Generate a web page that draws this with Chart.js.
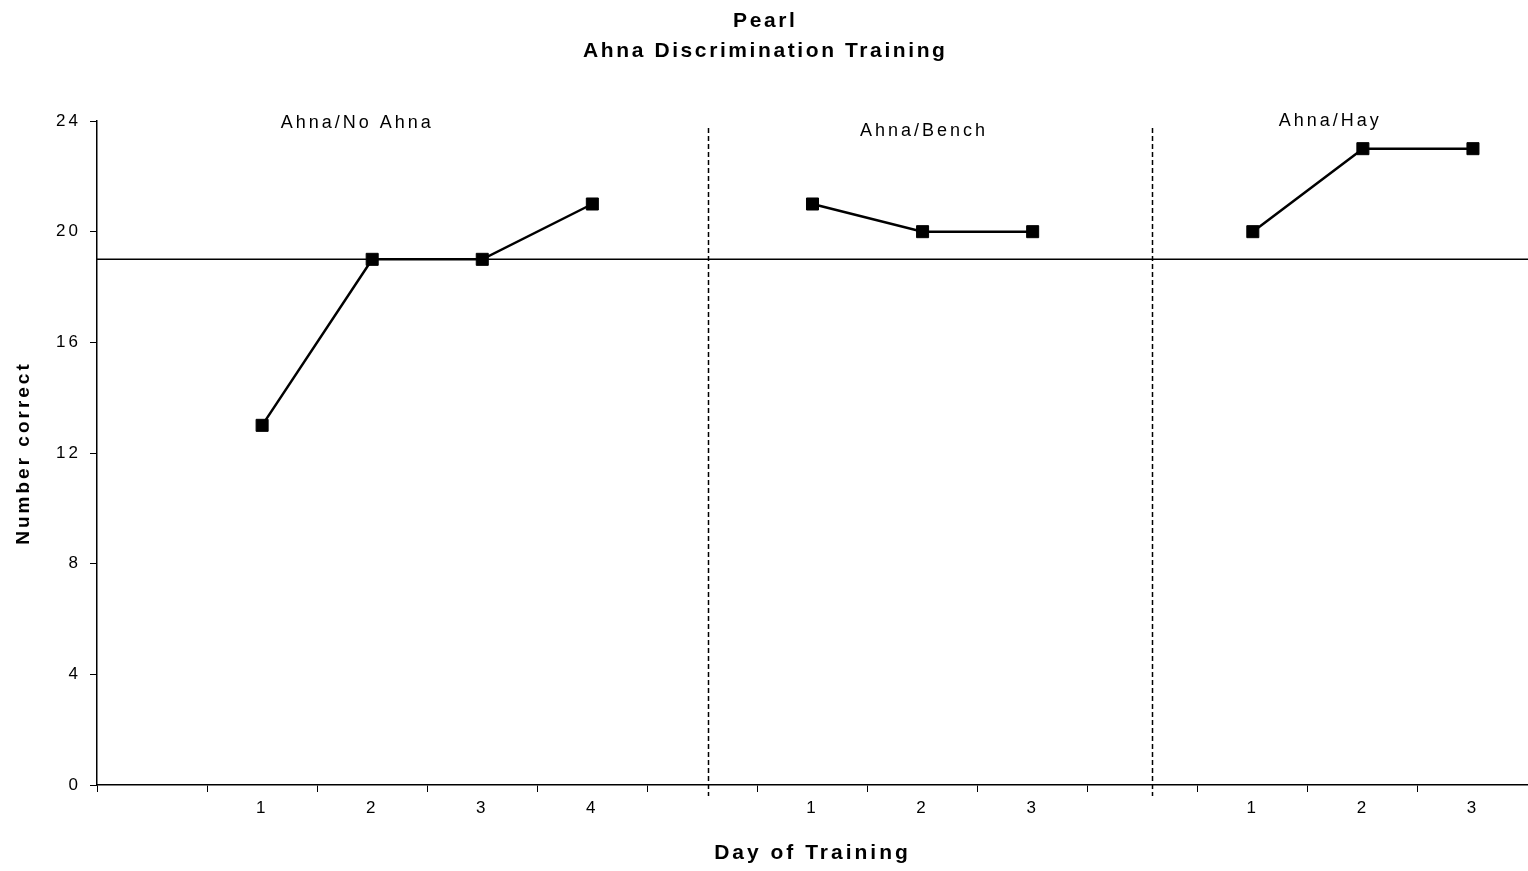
<!DOCTYPE html>
<html lang="en">
<head>
<meta charset="utf-8">
<script src="https://cdn.jsdelivr.net/npm/chart.js@4.4.1/dist/chart.umd.min.js"></script>
<style>
  html, body { margin: 0; padding: 0; background: #fff; }
</style>
</head>
<body>
<canvas id="chart" width="1528" height="871"></canvas>

<script>
// x categories: blank slots separate the three phases
var dayLabels = ['', '1', '2', '3', '4', '', '1', '2', '3', '', '1', '2', '3'];
var noAhna = [13, 19, 19, 21];
var bench = [21, 20, 20];
var hay = [20, 23, 23];
var criterion = 19;
var phaseNames = ['Ahna/No Ahna', 'Ahna/Bench', 'Ahna/Hay'];
var phaseBreaks = [5.05, 9.08];
var yTicks = [0, 4, 8, 12, 16, 20, 24];

var FONT = '"Liberation Sans", Arial, sans-serif';
Chart.defaults.font.family = FONT;
Chart.defaults.color = '#000';

// group the non-blank categories into runs, one per phase
var runs = [];
dayLabels.forEach(function (d, i) {
  if (d === '') return;
  if (i === 0 || dayLabels[i - 1] === '') runs.push([]);
  runs[runs.length - 1].push(i);
});

function toPoints(vals, run) {
  return vals.map(function (v, k) { return { x: run[k], y: v }; });
}

function phaseSet(vals, run) {
  return {
    data: toPoints(vals, run),
    xAxisID: 'xl',
    borderColor: '#000',
    borderWidth: 2.5,
    backgroundColor: '#000',
    pointStyle: 'rect',
    pointRadius: 8.5,
    pointBorderWidth: 1,
    pointBackgroundColor: '#000',
    pointBorderColor: '#000',
    tension: 0
  };
}

// where the phase names sit, in chart units
var phaseLabelPos = [[1.85, 23.93], [7.0, 23.65], [10.69, 24.0]];

var extras = {
  id: 'extras',
  beforeLayout: function (c) { c.ctx.letterSpacing = '3px'; },
  beforeDraw: function (c) { c.ctx.letterSpacing = '3px'; },
  beforeDatasetsDraw: function (c) {
    var ctx = c.ctx, xs = c.scales.xl, ys = c.scales.y;
    ctx.save();
    ctx.strokeStyle = '#000';
    ctx.lineWidth = 1.5;
    ctx.setLineDash([5, 3]);
    phaseBreaks.forEach(function (b) {
      var px = Math.round(xs.getPixelForValue(b)) + 0.5;
      ctx.beginPath();
      ctx.moveTo(px, ys.getPixelForValue(23.75));
      ctx.lineTo(px, ys.getPixelForValue(-0.4));
      ctx.stroke();
    });
    ctx.restore();
  },
  afterDraw: function (c) {
    var ctx = c.ctx, xs = c.scales.xl, ys = c.scales.y;
    ctx.save();
    ctx.fillStyle = '#000';
    ctx.textAlign = 'center';

    ctx.letterSpacing = '2.6px';
    ctx.font = 'bold 21px ' + FONT;
    ctx.textBaseline = 'alphabetic';
    ctx.fillText('Pearl', c.width / 2 + 1.3, 27);
    ctx.fillText('Ahna Discrimination Training', c.width / 2 + 1.3, 57);

    ctx.letterSpacing = '3px';
    ctx.font = '18px ' + FONT;
    ctx.textBaseline = 'middle';
    phaseNames.forEach(function (name, i) {
      var p = phaseLabelPos[i];
      ctx.fillText(name, xs.getPixelForValue(p[0]) + 1.5, ys.getPixelForValue(p[1]));
    });
    ctx.restore();
  }
};

var chart = new Chart(document.getElementById('chart').getContext('2d'), {
  type: 'line',
  data: {
    datasets: [
      {
        data: [{ x: -0.5, y: criterion }, { x: dayLabels.length - 0.5, y: criterion }],
        xAxisID: 'xl',
        borderColor: '#000',
        borderWidth: 1.5,
        pointRadius: 0
      },
      phaseSet(noAhna, runs[0]),
      phaseSet(bench, runs[1]),
      phaseSet(hay, runs[2])
    ]
  },
  options: {
    responsive: false,
    animation: false,
    devicePixelRatio: 1,
    layout: { autoPadding: false, padding: { top: 121, left: 0, right: 0, bottom: 0 } },
    plugins: {
      legend: { display: false },
      title: { display: false },
      tooltip: { enabled: false }
    },
    scales: {
      x: {
        type: 'category',
        labels: dayLabels,
        position: 'bottom',
        offset: true,
        grid: { offset: true, drawOnChartArea: false, tickLength: 7, color: '#000', lineWidth: 1 },
        border: { color: '#000', width: 1.5 },
        ticks: { font: { size: 17 }, color: '#000', padding: 6, maxRotation: 0, autoSkip: false },
        title: {
          display: true, text: 'Day of Training', color: '#000',
          font: { size: 21, weight: 'bold' }, padding: { top: 0, bottom: 5 }
        },
        afterFit: function (s) { s.height = 86; s.paddingLeft = 0; s.paddingRight = 0; }
      },
      xl: {
        type: 'linear', min: -0.5, max: dayLabels.length - 0.5, display: false,
        afterFit: function (s) { s.paddingLeft = 0; s.paddingRight = 0; }
      },
      y: {
        min: 0,
        max: 24,
        afterBuildTicks: function (s) { s.ticks = yTicks.map(function (v) { return { value: v }; }); },
        grid: { drawOnChartArea: false, tickLength: 7, color: '#000' },
        border: { color: '#000', width: 1.5 },
        ticks: { font: { size: 17 }, color: '#000', padding: 9 },
        title: {
          display: true, text: 'Number correct', color: '#000',
          font: { size: 19, weight: 'bold' }, padding: { top: 12, bottom: 0 }
        },
        afterFit: function (s) { s.width = 97; }
      }
    }
  },
  plugins: [extras]
});
</script>
</body>
</html>
